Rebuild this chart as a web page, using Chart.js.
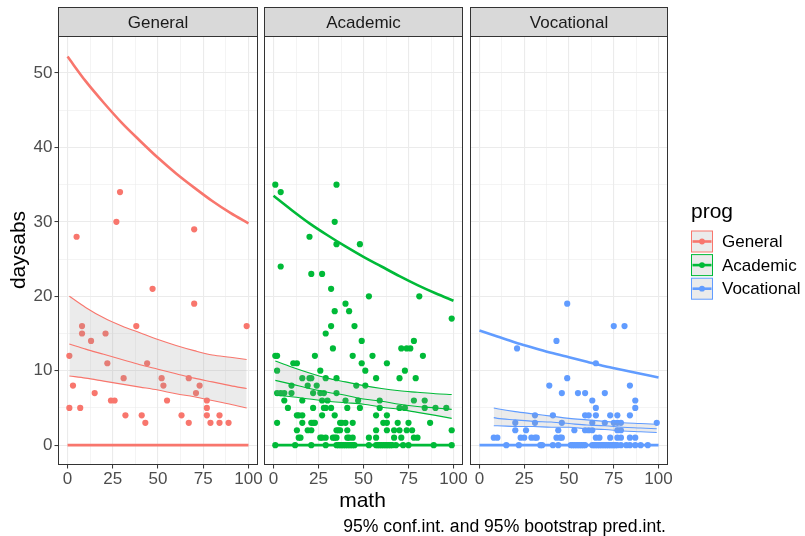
<!DOCTYPE html>
<html>
<head>
<meta charset="utf-8">
<script src="https://cdn.jsdelivr.net/npm/chart.js@4.4.1/dist/chart.umd.min.js"></script>
<style>
  html, body { margin: 0; padding: 0; background: #fff; }
  #wrap { position: relative; width: 805px; height: 536px; }
  canvas { position: absolute; left: 0; top: 0; }
</style>
</head>
<body>
<div id="wrap">
  <canvas id="c0" width="805" height="536"></canvas>
  <canvas id="c1" width="805" height="536"></canvas>
  <canvas id="c2" width="805" height="536"></canvas>
</div>
<script>
const panelNames = ['General', 'Academic', 'Vocational'];
const panelColors = ['#F8766D', '#00BA38', '#619CFF'];
const xTicks = [0, 12.5, 25, 37.5, 50, 62.5, 75, 87.5, 100];
const xTickLabels = [0, 25, 50, 75, 100];
const yTicks = [0, 5, 10, 15, 20, 25, 30, 35, 40, 45, 50];
const yTickLabels = [0, 10, 20, 30, 40, 50];

// bootstrap prediction interval (upper), on a 0..100 grid
const gridMath = [0, 10, 20, 30, 40, 50, 60, 70, 80, 90, 100];
const genPiUpper = [52.2, 48.9, 46.0, 43.3, 40.9, 38.6, 36.5, 34.6, 32.8, 31.2, 29.8];
const acaPiUpper = [33.5, 31.6, 29.8, 28.2, 26.7, 25.3, 24.0, 22.7, 21.5, 20.4, 19.4];
const vocPiUpper = [15.4, 14.6, 13.8, 13.1, 12.4, 11.8, 11.2, 10.6, 10.1, 9.6, 9.1];
const piLower = [0, 0, 0, 0, 0, 0, 0, 0, 0, 0, 0];

// fitted mean and 95% conf.int. over each group's math range
const genFitMath = [1, 10, 20, 30, 40, 50, 60, 70, 80, 90, 99];
const genFit = [13.6, 12.9, 12.2, 11.5, 10.8, 10.2, 9.6, 9.0, 8.5, 8.0, 7.6];
const genCiLow = [9.3, 9.0, 8.6, 8.2, 7.8, 7.4, 6.9, 6.5, 6.0, 5.5, 5.0];
const genCiHigh = [20.0, 18.5, 17.1, 16.0, 15.1, 14.2, 13.4, 12.7, 12.1, 11.8, 11.5];

const acaFitMath = [1, 10, 20, 30, 40, 50, 60, 70, 80, 90, 99];
const acaFit = [8.7, 8.2, 7.6, 7.1, 6.7, 6.2, 5.9, 5.5, 5.2, 5.0, 4.8];
const acaCiLow = [6.7, 6.5, 6.2, 5.9, 5.7, 5.5, 5.1, 4.8, 4.4, 4.0, 3.6];
const acaCiHigh = [11.3, 10.5, 9.7, 9.0, 8.5, 8.0, 7.6, 7.3, 7.1, 6.9, 6.8];

const vocFitMath = [8, 10, 20, 30, 40, 50, 60, 70, 80, 90, 99];
const vocFit = [3.7, 3.6, 3.4, 3.2, 3.1, 2.9, 2.7, 2.6, 2.4, 2.3, 2.2];
const vocCiLow = [2.6, 2.6, 2.5, 2.5, 2.4, 2.4, 2.2, 2.1, 1.9, 1.8, 1.7];
const vocCiHigh = [5.0, 4.9, 4.5, 4.2, 3.9, 3.6, 3.4, 3.2, 3.0, 2.9, 2.8];

// observed [math, daysabs]
const genPoints = [[1,12],[1,5],[3,8],[5,28],[7,5],[8,16],[8,15],[13,14],[15,7],[21,15],[22,11],[24,6],[26,6],[27,30],[29,34],
  [31,9],[32,4],[38,16],[41,4],[43,3],[44,11],[47,21],[52,9],[53,8],[55,6],[63,4],[67,9],[67,3],[70,29],[70,19],
  [71,7],[73,8],[77,6],[77,5],[77,4],[79,3],[84,4],[84,3],[89,3],[99,16]];

const acaPoints = [[1,35],[35,35],[4,34],[34,30],[20,28],[35,27],[48,27],[4,24],[21,23],[27,23],[32,21],[53,20],[81,20],
  [40,19],[34,18],[42,18],[99,17],[32,16],[45,16],[29,15],[49,14],[78,14],[33,13],[71,13],[74,13],[76,13],
  [1,12],[2,12],[23,12],[44,12],[55,12],[83,12],[11,11],[13,11],[49,11],[63,11],[2,10],[26,10],[51,10],[73,10],
  [16,9],[20,9],[21,9],[29,9],[35,9],[57,9],[70,9],[79,9],[10,8],[19,8],[24,8],[46,8],[51,8],
  [2,7],[4,7],[6,7],[10,7],[22,7],[26,7],[28,7],[35,7],
  [6,6],[16,6],[27,6],[30,6],[40,6],[47,6],[59,6],[78,6],[84,6],
  [8,5],[22,5],[28,5],[29,5],[32,5],[41,5],[48,5],[59,5],[70,5],[73,5],[84,5],[90,5],[96,5],
  [13,4],[14,4],[16,4],[27,4],[34,4],[57,4],[63,4],
  [2,3],[16,3],[21,3],[22,3],[23,3],[37,3],[38,3],[40,3],[44,3],[61,3],[63,3],[69,3],[75,3],[87,3],
  [13,2],[19,2],[21,2],[35,2],[36,2],[37,2],[41,2],[57,2],[63,2],[67,2],[70,2],[74,2],[77,2],[99,2],
  [14,1],[15,1],[26,1],[27,1],[29,1],[33,1],[34,1],[35,1],[41,1],[42,1],[44,1],[53,1],[57,1],[67,1],[71,1],[78,1],[80,1],
  [1,0],[12,0],[21,0],[29,0],[35,0],[36,0],[37,0],[38,0],[39,0],[40,0],[41,0],[42,0],[43,0],[44,0],[45,0],
  [53,0],[57,0],[58,0],[59,0],[60,0],[61,0],[62,0],[63,0],[64,0],[65,0],[66,0],[68,0],[72,0],[75,0],[89,0],[99,0]];

const vocPoints = [[49,19],[75,16],[81,16],[43,14],[21,13],[65,11],[49,9],[39,8],[84,8],
  [46,7],[55,7],[59,7],[70,7],[63,6],[87,6],[65,5],[87,5],
  [31,4],[41,4],[59,4],[61,4],[65,4],[73,4],[77,4],[84,4],
  [20,3],[31,3],[46,3],[63,3],[70,3],[75,3],[77,3],[79,3],[99,3],
  [20,2],[26,2],[44,2],[53,2],[59,2],[61,2],[63,2],[77,2],[79,2],
  [8,1],[10,1],[23,1],[25,1],[29,1],[31,1],[32,1],[43,1],[45,1],[46,1],[65,1],[67,1],[73,1],[77,1],[79,1],[84,1],[87,1],
  [15,0],[22,0],[34,0],[35,0],[41,0],[44,0],[51,0],[52,0],[53,0],[54,0],[55,0],[56,0],[57,0],[58,0],[59,0],
  [63,0],[64,0],[65,0],[66,0],[67,0],[68,0],[69,0],[70,0],[71,0],[72,0],[73,0],[74,0],[75,0],[76,0],[77,0],
  [79,0],[82,0],[84,0],[87,0],[90,0],[94,0]];

const FONT = '"Liberation Sans", Arial, Helvetica, sans-serif';
const panelLeft = [58.5, 264.5, 470.5];
const panelRight = [257.5, 462.5, 667.5];
const panelTop = 36.5, panelBottom = 464.5, stripTop = 7.5;
const xAxisH = 30, yAxisW = 50;

const panelFrame = {
  id: 'panelFrame',
  afterDraw(chart, args, opts) {
    const {ctx, chartArea: a} = chart;
    ctx.save();
    ctx.strokeStyle = '#333333';
    ctx.lineWidth = 1;
    ctx.strokeRect(a.left, a.top, a.right - a.left, a.bottom - a.top);
    ctx.fillStyle = '#D9D9D9';
    ctx.fillRect(a.left, stripTop, a.right - a.left, a.top - stripTop);
    ctx.strokeRect(a.left, stripTop, a.right - a.left, a.top - stripTop);
    ctx.fillStyle = '#1A1A1A';
    ctx.font = '17px ' + FONT;
    ctx.textAlign = 'center';
    ctx.textBaseline = 'middle';
    ctx.fillText(opts.label, (a.left + a.right) / 2, (stripTop + a.top) / 2 + 1);
    ctx.restore();
  }
};

const pageText = {
  id: 'pageText',
  afterDraw(chart) {
    const ctx = chart.ctx;
    ctx.save();
    ctx.fillStyle = '#000000';
    ctx.textBaseline = 'middle';
    ctx.font = '21px ' + FONT;
    ctx.textAlign = 'center';
    ctx.fillText('math', 362.5, 501);
    ctx.save();
    ctx.translate(19, 250);
    ctx.rotate(-Math.PI / 2);
    ctx.fillText('daysabs', 0, 0);
    ctx.restore();
    ctx.font = '17.6px ' + FONT;
    ctx.textAlign = 'right';
    ctx.fillText('95% conf.int. and 95% bootstrap pred.int.', 666, 527);

    // legend
    ctx.textAlign = 'left';
    ctx.font = '21px ' + FONT;
    ctx.fillText('prog', 691, 212);
    ctx.font = '17px ' + FONT;
    panelNames.forEach((name, i) => {
      const cy = 241.5 + i * 23.6;
      const x0 = 691.5, w = 21, h = 21;
      ctx.fillStyle = 'rgba(153,153,153,0.2)';
      ctx.fillRect(x0, cy - h / 2, w, h);
      ctx.strokeStyle = panelColors[i];
      ctx.lineWidth = 1;
      ctx.strokeRect(x0, cy - h / 2, w, h);
      ctx.lineWidth = 2.6;
      ctx.beginPath();
      ctx.moveTo(x0 + 1, cy);
      ctx.lineTo(x0 + w - 1, cy);
      ctx.stroke();
      ctx.fillStyle = panelColors[i];
      ctx.beginPath();
      ctx.arc(x0 + w / 2, cy, 2.9, 0, Math.PI * 2);
      ctx.fill();
      ctx.fillStyle = '#000000';
      ctx.fillText(name, 722, cy + 1);
    });
    ctx.restore();
  }
};

const xy = (xs, ys) => xs.map((x, k) => ({x: x, y: ys[k]}));

function makePanel(i, points, fitMath, fit, ciLow, ciHigh, piUpper) {
  const col = panelColors[i];
  const yw = i === 0 ? yAxisW : 0;
  const line = {pointRadius: 0, fill: false, cubicInterpolationMode: 'monotone', borderColor: col};
  new Chart(document.getElementById('c' + i), {
    type: 'line',
    data: {
      datasets: [
        Object.assign({data: xy(gridMath, piUpper), borderWidth: 2.6, order: 1}, line),
        Object.assign({data: xy(gridMath, piLower), borderWidth: 2.6, order: 1}, line),
        Object.assign({data: xy(fitMath, fit), borderWidth: 1.1, order: 2}, line),
        Object.assign({data: xy(fitMath, ciLow), borderWidth: 1.1, order: 2}, line),
        Object.assign({}, line, {data: xy(fitMath, ciHigh), borderWidth: 1.1, order: 5,
          fill: '-1', backgroundColor: 'rgba(153,153,153,0.2)'}),
        {data: points.map(p => ({x: p[0], y: p[1]})), showLine: false, pointRadius: 3.1,
          pointBackgroundColor: col, pointBorderWidth: 0, order: 10}
      ]
    },
    options: {
      responsive: false,
      animation: false,
      layout: {padding: {left: panelLeft[i] - yw, right: 805 - panelRight[i], top: panelTop,
        bottom: 536 - panelBottom - xAxisH}},
      plugins: {legend: {display: false}, tooltip: {enabled: false}, panelFrame: {label: panelNames[i]}},
      scales: {
        x: {
          type: 'linear', min: -5, max: 105,
          afterFit: s => { s.height = xAxisH; },
          afterBuildTicks: s => { s.ticks = xTicks.map(v => ({value: v})); },
          ticks: {autoSkip: false, maxRotation: 0, padding: 1, color: '#4D4D4D',
            font: {family: FONT, size: 17},
            callback: v => xTickLabels.includes(v) ? String(v) : ''},
          grid: {color: '#EBEBEB', tickLength: 4, tickWidth: 1,
            lineWidth: c => xTickLabels.includes(c.tick.value) ? 1.1 : 0.55,
            tickColor: c => xTickLabels.includes(c.tick.value) ? '#333333' : 'rgba(0,0,0,0)'},
          border: {display: false}
        },
        y: {
          type: 'linear', min: -2.6, max: 54.9,
          afterFit: s => { s.width = yw; },
          afterBuildTicks: s => { s.ticks = yTicks.map(v => ({value: v})); },
          ticks: {display: i === 0, autoSkip: false, padding: 2, color: '#4D4D4D',
            font: {family: FONT, size: 17},
            callback: v => yTickLabels.includes(v) ? String(v) : ''},
          grid: {color: '#EBEBEB', drawTicks: i === 0, tickLength: 4, tickWidth: 1,
            lineWidth: c => yTickLabels.includes(c.tick.value) ? 1.1 : 0.55,
            tickColor: c => yTickLabels.includes(c.tick.value) ? '#333333' : 'rgba(0,0,0,0)'},
          border: {display: false}
        }
      }
    },
    plugins: i === 2 ? [panelFrame, pageText] : [panelFrame]
  });
}

makePanel(0, genPoints, genFitMath, genFit, genCiLow, genCiHigh, genPiUpper);
makePanel(1, acaPoints, acaFitMath, acaFit, acaCiLow, acaCiHigh, acaPiUpper);
makePanel(2, vocPoints, vocFitMath, vocFit, vocCiLow, vocCiHigh, vocPiUpper);
</script>
</body>
</html>
